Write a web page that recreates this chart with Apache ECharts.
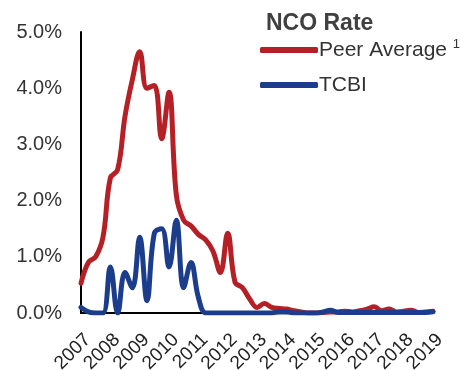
<!DOCTYPE html>
<html><head><meta charset="utf-8">
<script src="https://cdn.jsdelivr.net/npm/echarts@6/dist/echarts.min.js"></script>
<style>html,body{margin:0;padding:0;background:#fff}#c{width:460px;height:370px}</style>
</head><body><div id="c"></div>
<script>
const years = ['2007','2008','2009','2010','2011','2012','2013','2014','2015','2016','2017','2018','2019'];
const quarters = ['Q1','Q2','Q3','Q4'];
const categories = [];
years.forEach((y, i) => {
  if (i < years.length - 1) quarters.forEach(q => categories.push(y + q));
  else categories.push(y + 'Q1');
});
const peerAverage = [0.53,0.9,1.0,1.35,2.4,2.55,3.5,4.15,4.65,4.0,4.05,3.1,3.93,2.1,1.65,1.55,1.4,1.3,1.1,0.72,1.42,0.55,0.45,0.25,0.1,0.17,0.1,0.08,0.07,0.04,0.02,0.0,0.0,0.01,0.02,0.02,0.03,0.02,0.04,0.07,0.11,0.04,0.07,0.02,0.03,0.05,0.01,0.02,0.03];
const tcbi = [0.1,0.02,0.0,0.0,0.82,0.0,0.72,0.45,1.35,0.22,1.42,1.5,0.82,1.65,0.45,0.9,0.28,0.0,0.0,0.0,0.0,0.0,0.0,0.0,0.0,0.0,0.0,0.02,0.02,0.0,0.0,0.0,0.0,0.02,0.05,0.01,0.01,0.01,0.01,0.01,0.01,0.01,0.01,0.01,0.01,0.01,0.01,0.01,0.02];
const yTicks = [0,1,2,3,4,5];
const seriesNames = ['Peer Average', 'TCBI'];
const colors = ['#B42025', '#1B3D8C'];

const chart = echarts.init(document.getElementById('c'), null, {renderer:'canvas'});
chart.setOption({
  animation: false,
  title: {
    text: 'NCO Rate', left: 261, top: 7,
    textStyle: {fontFamily: 'Liberation Sans, Arial, sans-serif', fontWeight: 'bold', fontSize: 23, color: '#404040'}
  },
  legend: {
    orient: 'vertical', left: 255, top: 33,
    itemWidth: 58, itemHeight: 6, itemGap: 11,
    icon: 'roundRect',
    data: seriesNames,
    formatter: n => n === 'Peer Average' ? 'Peer Average {sup|1}' : n,
    textStyle: {
      fontFamily: 'Liberation Sans, Arial, sans-serif', fontSize: 21, color: '#333', lineHeight: 24, padding: [0,0,0,-4],
      rich: {sup: {fontSize: 13, verticalAlign: 'top', padding: [0,0,20,0], color: '#333'}}
    }
  },
  grid: {left: 81, right: 27, top: 32, bottom: 57, containLabel: false, outerBoundsMode: 'none'},
  xAxis: {
    type: 'category', data: categories, boundaryGap: false,
    axisLine: {lineStyle: {color: '#000', width: 2}},
    axisTick: {show: false},
    axisLabel: {
      interval: i => i % 4 === 0,
      formatter: v => v.slice(0, 4),
      rotate: 45, margin: 17, verticalAlign: 'top',
      fontFamily: 'Liberation Sans, Arial, sans-serif', fontSize: 19, color: '#222'
    },
    splitLine: {show: false}
  },
  yAxis: {
    type: 'value', min: yTicks[0], max: yTicks[yTicks.length-1], interval: 1,
    axisLine: {show: true, lineStyle: {color: '#000', width: 2}},
    axisTick: {show: false},
    splitLine: {show: false},
    axisLabel: {
      formatter: v => v.toFixed(1) + '%', margin: 19,
      fontFamily: 'Liberation Sans, Arial, sans-serif', fontSize: 20, color: '#333'
    }
  },
  series: [
    {name: seriesNames[0], type: 'line', data: peerAverage, smooth: 0.4, showSymbol: false,
     lineStyle: {color: colors[0], width: 5, cap: 'round', join: 'round'}, itemStyle: {color: colors[0]}},
    {name: seriesNames[1], type: 'line', data: tcbi, smooth: 0.4, showSymbol: false,
     lineStyle: {color: colors[1], width: 5, cap: 'round', join: 'round'}, itemStyle: {color: colors[1]}}
  ]
});
</script></body></html>
